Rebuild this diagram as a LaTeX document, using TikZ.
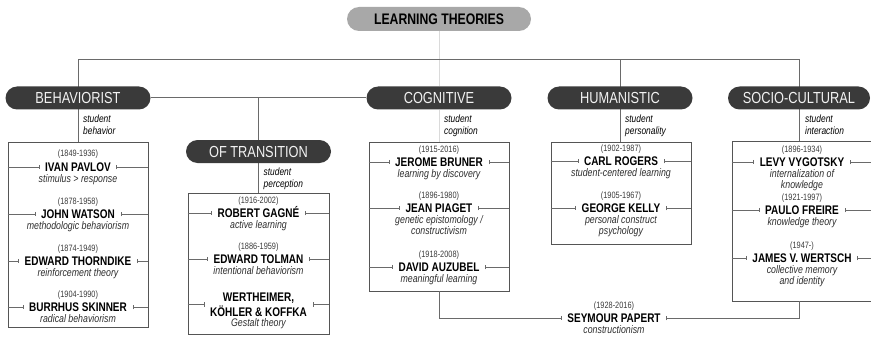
\documentclass[tikz,border=0pt]{standalone}
\usepackage{fontspec}
\setmainfont{Liberation Sans}[FakeStretch=0.8]
\usetikzlibrary{arrows.meta,backgrounds}

\definecolor{pillbg}{HTML}{3A3A3A}
\definecolor{pilltx}{HTML}{F2F2F2}
\definecolor{titlebg}{HTML}{A8A8A8}
\definecolor{wire}{HTML}{6A6A6A}
\definecolor{wirelight}{HTML}{DADADA}
\definecolor{frame}{HTML}{555555}
\definecolor{yeartx}{HTML}{3A3A3A}
\definecolor{desctx}{HTML}{2E2E2E}

\tikzset{
  pill/.style={rectangle, rounded corners=11.5pt, fill=pillbg, text=pilltx,
    minimum width=145pt, minimum height=23pt, inner sep=0pt,
    font=\fontsize{16}{17}\selectfont},
  titlepill/.style={rectangle, rounded corners=12pt, fill=titlebg, text=black,
    minimum width=184pt, minimum height=24pt, inner sep=0pt,
    font=\bfseries\fontsize{15.3}{16}\selectfont},
  group/.style={rectangle, draw=frame, line width=0.8pt, inner sep=0pt},
  years/.style={anchor=base, inner sep=0pt, text=yeartx,
    font=\fontsize{9.2}{10}\selectfont},
  namebase/.style={inner xsep=5.5pt, inner ysep=0pt, text=black, align=center,
    font=\bfseries\fontsize{12.5}{15}\selectfont},
  who/.style={namebase, text height=8.6pt, text depth=0pt},
  desc/.style={anchor=north, inner sep=0pt, text=desctx, align=center,
    font=\itshape\fontsize{11}{11.3}\selectfont},
  focus/.style={anchor=north west, inner sep=0pt, align=left, text=black,
    font=\itshape\fontsize{10.5}{11.5}\selectfont},
  wire/.style={draw=wire, line width=1pt},
  faint/.style={draw=wirelight, line width=1pt},
  tick/.style={draw=wire, line width=0.8pt, -{Bar[width=4.5pt,line width=0.8pt]}},
}

% first line of a keyword block always 8pt tall, so its top sits 8pt above the baseline
\newcommand\firstline{\rule{0pt}{8pt}}

% one scholar: id, frame, x, name centre y, years, name, keywords
\newcommand\scholar[7]{%
  \node[years] (#1-y) at (#3,#4-10) {#5};
  \node[who] (#1) at (#3,#4) {#6};
  \node[desc] (#1-d) at (#3,#4+7) {\firstline#7};
  \draw[tick] (#2.west |- #1.west) -- (#1.west);
  \draw[tick] (#2.east |- #1.east) -- (#1.east);
}

\begin{document}
\begin{tikzpicture}[x=1pt, y=-1pt]
\useasboundingbox (0,0) rectangle (871,337);

% headings
\node[titlepill] (title) at (439,19) {LEARNING THEORIES};
\node[pill] (beh) at (78,98) {BEHAVIORIST};
\node[pill] (cog) at (439,98) {COGNITIVE};
\node[pill] (hum) at (620,98) {HUMANISTIC};
\node[pill, minimum width=142pt] (soc) at (799,98) {SOCIO-CULTURAL};
\node[pill] (trans) at (258.5,151.5) {OF TRANSITION};
\coordinate (bus) at (0,60);

% focus of each school
\node[focus] (beh-f) at (83,115) {student\\behavior};
\node[focus] (trans-f) at (263.5,168) {student\\perception};
\node[focus] (cog-f) at (444,115) {student\\cognition};
\node[focus] (hum-f) at (625,115) {student\\personality};
\node[focus] (soc-f) at (805,115) {student\\interaction};

% frames
\node[group, minimum width=140pt, minimum height=185pt] (behbox) at (78,234.5) {};
\node[group, minimum width=141pt, minimum height=141pt] (transbox) at (258.5,263.5) {};
\node[group, minimum width=140pt, minimum height=149pt] (cogbox) at (439,216.5) {};
\node[group, minimum width=140pt, minimum height=102pt] (humbox) at (621,193) {};
\node[group, minimum width=140pt, minimum height=160pt] (socbox) at (802,221) {};

% behaviorist
\scholar{pavlov}{behbox}{78}{167}{(1849-1936)}{IVAN PAVLOV}{stimulus > response}
\scholar{watson}{behbox}{78}{214}{(1878-1958)}{JOHN WATSON}{methodologic behaviorism}
\scholar{thorndike}{behbox}{78}{261}{(1874-1949)}{EDWARD THORNDIKE}{reinforcement theory}
\scholar{skinner}{behbox}{78}{307}{(1904-1990)}{BURRHUS SKINNER}{radical behaviorism}

% of transition
\scholar{gagne}{transbox}{258.5}{213}{(1916-2002)}{ROBERT GAGNÉ}{active learning}
\scholar{tolman}{transbox}{258.5}{259}{(1886-1959)}{EDWARD TOLMAN}{intentional behaviorism}
\node[namebase] (gestalt) at (258.5,304.5) {WERTHEIMER,\\KÖHLER \& KOFFKA};
\node[desc] (gestalt-d) at (258.5,318) {\firstline Gestalt theory};
\draw[tick] (transbox.west |- gestalt.west) -- (gestalt.west);
\draw[tick] (transbox.east |- gestalt.east) -- (gestalt.east);

% cognitive
\scholar{bruner}{cogbox}{439}{162}{(1915-2016)}{JEROME BRUNER}{learning by discovery}
\scholar{piaget}{cogbox}{439}{208}{(1896-1980)}{JEAN PIAGET}{genetic epistomology /\\constructivism}
\scholar{auzubel}{cogbox}{439}{267}{(1918-2008)}{DAVID AUZUBEL}{meaningful learning}

% humanistic
\scholar{rogers}{humbox}{621}{161}{(1902-1987)}{CARL ROGERS}{student-centered learning}
\scholar{kelly}{humbox}{621}{208}{(1905-1967)}{GEORGE KELLY}{personal construct\\psychology}

% socio-cultural
\scholar{vygotsky}{socbox}{802}{162}{(1896-1934)}{LEVY VYGOTSKY}{internalization of\\knowledge}
\scholar{freire}{socbox}{802}{210}{(1921-1997)}{PAULO FREIRE}{knowledge theory}
\scholar{wertsch}{socbox}{802}{258}{(1947-)}{JAMES V. WERTSCH}{collective memory\\and identity}

% Papert, between cognitive and socio-cultural
\node[years] (papert-y) at (614,308) {(1928-2016)};
\node[who] (papert) at (614,318) {SEYMOUR PAPERT};
\node[desc] (papert-d) at (614,325) {\firstline constructionism};
\draw[tick] (cogbox.south) -- (cogbox.south |- papert.west) -- (papert.west);
\draw[tick] (soc |- socbox.south) -- (soc |- papert.east) -- (papert.east);

% tree connectors behind the headings
\begin{scope}[on background layer]
  \draw[faint] (title.south) -- (cog.north);
  \draw[faint] (cog.south) -- (cogbox.north);
  \draw[wire] (behbox.north) -- (beh |- bus) -- (soc |- bus) -- (soc |- socbox.north);
  \draw[wire] (hum |- bus) -- (hum |- humbox.north);
  \draw[wire] (beh.east) -- (cog.west);
  \draw[wire] (trans |- beh) -- (trans.north);
  \draw[wire] (trans.south) -- (trans |- transbox.north);
\end{scope}
\end{tikzpicture}
\end{document}
